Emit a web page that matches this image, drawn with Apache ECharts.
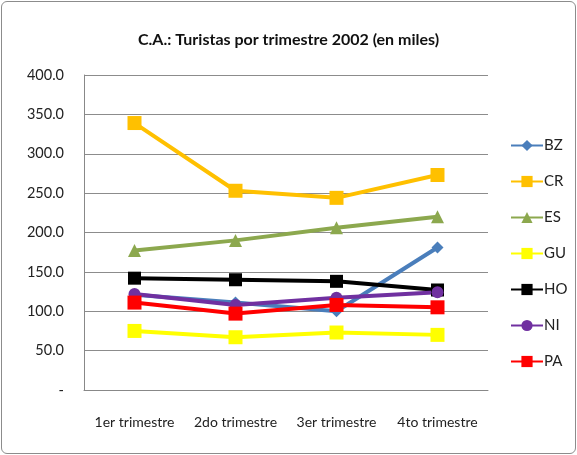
<!DOCTYPE html>
<html>
<head>
<meta charset="utf-8">
<script src="https://cdn.jsdelivr.net/npm/echarts@6/dist/echarts.min.js"></script>
<style>
  html, body { margin: 0; padding: 0; background: #fff; }
  #chart { position: absolute; left: 1px; top: 1px; width: 573px; height: 451px; border: 1px solid #8c8c8c; border-radius: 6px; }
</style>
</head>
<body>
<div id="chart"></div>
<script>
const categories = ['1er trimestre', '2do trimestre', '3er trimestre', '4to trimestre'];
const BZ = [121, 111, 100, 181];
const CR = [339, 253, 244, 273];
const ES = [177, 190, 206, 220];
const GU = [75, 67, 73, 70];
const HO = [142, 140, 138, 127];
const NI = [122, 108, 117, 124];
const PA = [111, 97, 108, 105];

const TXT = { fontFamily: 'Lato', color: '#222', fontSize: 14 };

const defs = [
  { name: 'BZ', data: BZ, color: '#4a7ebb', symbol: 'diamond', size: 12 },
  { name: 'CR', data: CR, color: '#ffc000', symbol: 'rect', size: 14 },
  { name: 'ES', data: ES, color: '#8ca84e', symbol: 'triangle', size: 13 },
  { name: 'GU', data: GU, color: '#ffff00', symbol: 'rect', size: 14 },
  { name: 'HO', data: HO, color: '#000000', symbol: 'rect', size: 13 },
  { name: 'NI', data: NI, color: '#7030a0', symbol: 'circle', size: 12 },
  { name: 'PA', data: PA, color: '#ff0000', symbol: 'rect', size: 14 }
];

const chart = echarts.init(document.getElementById('chart'));
chart.setOption({
  animation: false,
  title: {
    text: 'C.A.: Turistas por trimestre 2002 (en miles)',
    left: 'center', top: 25,
    textStyle: { fontFamily: 'Lato', fontSize: 16, fontWeight: 'bold', color: '#111' }
  },
  legend: {
    orient: 'vertical', left: 503, top: 131, itemGap: 21,
    itemWidth: 32, itemHeight: 14,
    textStyle: { ...TXT, fontSize: 15, padding: [0, 0, 0, -4] },
    data: defs.map(d => d.name)
  },
  grid: { left: 82, right: 87, top: 73, bottom: 63 },
  xAxis: {
    type: 'category', data: categories,
    axisLine: { lineStyle: { color: '#888' } },
    axisTick: { show: false },
    axisLabel: { ...TXT, margin: 25, interval: 0 }
  },
  yAxis: {
    type: 'value', min: 0, max: 400, interval: 50,
    axisLine: { show: true, lineStyle: { color: '#888' } },
    axisTick: { show: false },
    axisLabel: { ...TXT, fontSize: 14.5, margin: 20, formatter: v => v === 0 ? '-' : v.toFixed(1) },
    splitLine: { lineStyle: { color: '#8c8c8c' } }
  },
  series: defs.map(d => ({
    name: d.name, type: 'line', data: d.data,
    symbol: d.symbol, symbolSize: d.size,
    itemStyle: { color: d.color },
    lineStyle: { color: d.color, width: 4 }
  }))
});
</script>
</body>
</html>
